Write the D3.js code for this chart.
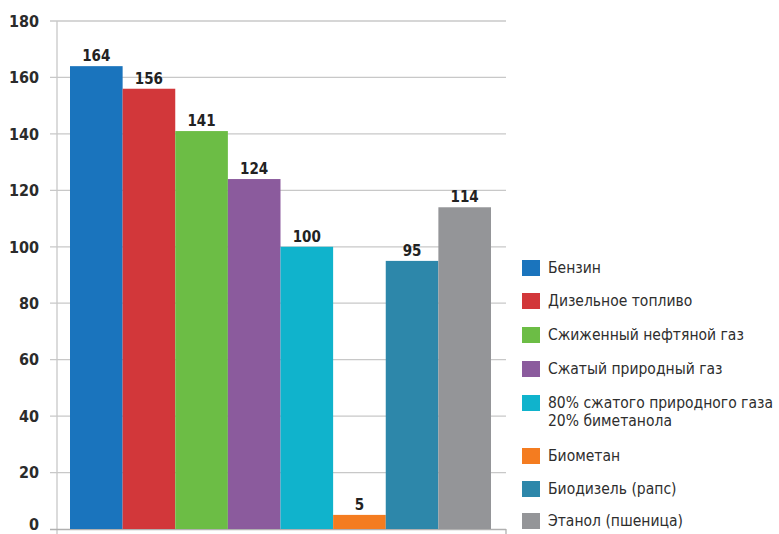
<!DOCTYPE html>
<html><head><meta charset="utf-8">
<script src="https://cdn.jsdelivr.net/npm/d3@7"></script>
<style>
body{margin:0;background:#fff;}
svg{display:block;}
</style></head>
<body><svg id="c" width="779" height="534"></svg>
<script>
const categories = ["Бензин","Дизельное топливо","Сжиженный нефтяной газ","Сжатый природный газ","80% сжатого природного газа\n20% биметанола","Биометан","Биодизель (рапс)","Этанол (пшеница)"];
const values = [164,156,141,124,100,5,95,114];
const colors = ["#1a74bd","#d2373a","#6cbd45","#8b5b9d","#10b3cc","#f47c20","#2d87aa","#949598"];
const yTicks = [0,20,40,60,80,100,120,140,160,180];

const svg = d3.select("#c");
const x = d3.scaleBand().domain(categories).range([70,491]).padding(0);
const y = d3.scaleLinear().domain([0,180]).range([529,21]);
const numFont = "'DejaVu Sans Condensed','Liberation Sans Narrow',sans-serif";
const txtFont = "'Liberation Sans Narrow','DejaVu Sans Condensed',sans-serif";

// gridlines
svg.append("g").selectAll("line").data(yTicks.filter(d=>d>0)).join("line")
  .attr("x1",50).attr("x2",506).attr("y1",d=>y(d)).attr("y2",d=>y(d))
  .attr("stroke","#c8c8c8").attr("stroke-width",1.3);
// y axis line
svg.append("line").attr("x1",57).attr("x2",57).attr("y1",y(180)).attr("y2",534)
  .attr("stroke","#c8c8c8").attr("stroke-width",1.3);
// bottom axis
svg.append("line").attr("x1",50).attr("x2",506).attr("y1",y(0)+0.5).attr("y2",y(0)+0.5)
  .attr("stroke","#b0b0b0").attr("stroke-width",1.3);
svg.append("line").attr("x1",506).attr("x2",506).attr("y1",y(0)).attr("y2",534)
  .attr("stroke","#b0b0b0").attr("stroke-width",1.3);

// y labels
svg.append("g").selectAll("text").data(yTicks).join("text")
  .attr("x",39).attr("y",d=>Math.min(y(d)+5.8,529.5)).attr("text-anchor","end")
  .attr("font-family",numFont).attr("font-weight","bold").attr("font-size",16)
  .attr("fill","#2b2b2b").text(d=>d);

// bars
svg.append("g").selectAll("rect").data(values).join("rect")
  .attr("x",(d,i)=>x(categories[i])).attr("width",x.bandwidth())
  .attr("y",d=>y(d)).attr("height",d=>y(0)-y(d))
  .attr("fill",(d,i)=>colors[i]);

// value labels
svg.append("g").selectAll("text").data(values).join("text")
  .attr("x",(d,i)=>x(categories[i])+x.bandwidth()/2).attr("y",d=>y(d)-5)
  .attr("text-anchor","middle")
  .attr("font-family",numFont).attr("font-weight","bold").attr("font-size",15)
  .attr("fill","#222").text(d=>d);

// legend
const legY = [268,301,335,369,403,456,489,521];
const lg = svg.append("g");
categories.forEach((c,i)=>{
  lg.append("rect").attr("x",522).attr("y",legY[i]-8).attr("width",18).attr("height",16).attr("fill",colors[i]);
  const t = lg.append("text").attr("x",548).attr("y",legY[i])
    .attr("font-family",txtFont).attr("font-size",15.5).attr("fill","#2e2e2e");
  c.split("\n").forEach((s,j)=>{
    t.append("tspan").attr("x",548).attr("dy", j===0?"0.35em":"1.15em").text(s);
  });
});
</script></body></html>
